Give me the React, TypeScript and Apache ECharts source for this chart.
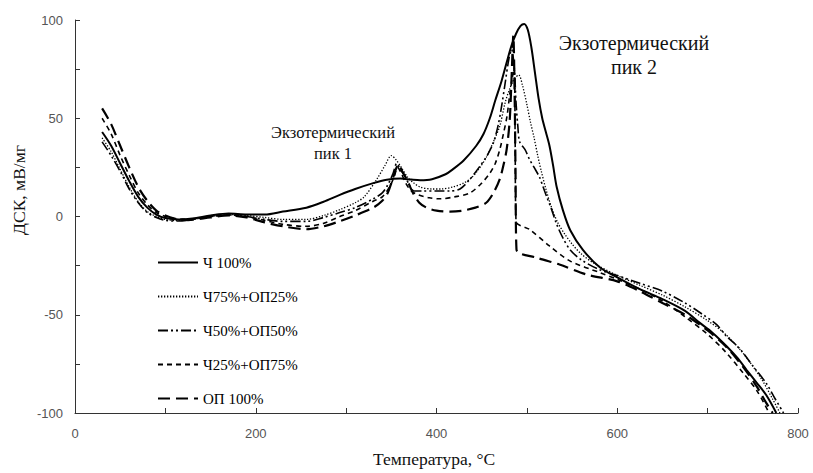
import React, { useEffect, useRef } from 'react';
import * as echarts from 'echarts';

const seriesNames = ['Ч 100%', 'Ч75%+ОП25%', 'Ч50%+ОП50%', 'Ч25%+ОП75%', 'ОП 100%'];

const xTicks = [0, 200, 400, 600, 800];
const yTicks = [-100, -50, 0, 50, 100];

// [temperature °C, DSC mV/mg]
const ch100: number[][] = [
  [30, 43], [40, 36], [50, 27], [60, 18], [70, 10], [80, 4.5], [90, 1], [100, -0.8], [115, -1.5], [130, -1],
  [150, 0.5], [170, 1.5], [190, 1], [210, 1], [230, 2.5], [256, 4.5], [275, 7.5], [293, 11], [310, 14], [330, 17],
  [345, 18.7], [360, 19.3], [372, 18.8], [382, 18.5], [395, 19], [410, 21.5], [418, 24], [430, 28.5], [444, 36],
  [452, 42], [459, 50], [465, 59], [472, 69], [478, 79], [483, 87], [488, 93], [493, 97], [497, 98], [501, 95],
  [505, 86], [509, 73], [513, 60], [517, 50], [521, 43], [525, 36], [529, 26], [533, 15], [540, 3], [548, -7],
  [562, -17], [581, -26], [600, -31], [625, -37], [650, -42], [675, -48], [691, -54], [705, -59], [721, -66],
  [733, -72], [743, -78], [755, -85], [765, -91], [776, -100],
];

const ch75: number[][] = [
  [30, 40], [40, 33], [50, 24], [60, 15], [70, 7.5], [80, 2.5], [90, 0], [100, -1.5], [115, -2], [130, -1.5],
  [150, 0], [170, 1], [190, 0.5], [210, -0.5], [230, -1.5], [256, -1.5], [275, 0.5], [293, 3.5], [310, 7], [320, 10],
  [334, 19], [343, 26], [350, 31], [355, 29], [361, 25], [368, 20], [375, 17], [382, 15], [395, 14], [405, 14],
  [418, 15], [430, 17], [437, 19], [445, 23], [455, 30], [463, 38], [470, 46], [476, 58], [481, 65], [486, 70],
  [491, 72], [495, 67], [500, 57], [504, 48], [508, 40], [512, 31], [516, 23], [521, 14], [527, 5], [534, -3],
  [542, -9], [550, -14], [560, -19], [575, -24], [600, -30], [625, -35], [650, -40], [675, -46], [700, -53],
  [720, -60], [740, -70], [760, -83], [772, -93], [780, -100],
];

const ch50: number[][] = [
  [30, 38], [40, 31], [50, 23], [60, 14], [70, 7], [80, 2], [90, -0.5], [100, -2], [115, -2.3], [130, -1.5],
  [150, 0], [170, 0.8], [190, 0], [210, -1.5], [230, -2.5], [256, -2.5], [275, -0.5], [293, 2], [310, 4.5], [330, 9],
  [340, 12], [346, 16], [352, 22], [356, 27], [360, 24], [365, 20.5], [370, 16], [375, 13], [385, 13], [400, 13],
  [415, 13], [426, 14], [437, 19], [448, 25.6], [456, 31], [463, 37.6], [468, 46], [472, 56], [476, 68], [480, 80],
  [483, 85], [486, 76], [488, 58], [490, 46], [492, 38], [498, 34], [503, 29], [508, 25], [514, 20], [518, 15],
  [522, 10], [527, 4], [533, -4], [540, -11], [548, -17], [560, -22], [580, -27], [600, -30], [625, -34], [650, -38],
  [675, -44], [695, -50], [710, -55], [721, -61], [735, -67], [750, -76], [765, -85], [775, -93], [784, -100],
];

const ch25: number[][] = [
  [30, 50], [40, 42], [50, 31], [60, 21], [70, 12], [80, 6], [90, 2], [100, 0], [110, -1], [125, -1.5],
  [150, 0], [170, 0.8], [190, 0], [210, -2], [230, -4], [256, -5], [275, -3.5], [293, 0], [310, 3], [330, 7.8],
  [340, 10], [348, 15], [353, 20], [357, 25], [361, 22], [366, 17], [372, 13], [380, 11], [392, 9.5], [404, 9],
  [420, 10], [437, 12], [450, 17], [459, 22], [465, 27], [470, 34], [474, 42], [478, 51], [481, 62], [484, 71],
  [486, 75], [487, 40], [488, -2.5], [503, -6.6], [525, -15], [548, -22.7], [581, -28.6], [600, -32], [625, -37],
  [650, -43], [675, -51], [700, -60], [720, -69], [740, -80], [755, -89], [768, -100],
];

const op100: number[][] = [
  [30, 55], [40, 47], [50, 36], [60, 25], [70, 15], [80, 8], [90, 3], [100, 0.5], [110, -1], [125, -1.8],
  [150, -0.5], [170, 0.5], [190, -0.5], [210, -3], [230, -5], [256, -6.5], [275, -5], [293, -2.4], [310, 0.5],
  [330, 4.5], [340, 8], [346, 12], [350, 17], [355, 24], [358, 26.5], [362, 23], [367, 19], [374, 12], [381, 7],
  [389, 4.5], [400, 3], [415, 2.5], [429, 3], [443, 4.5], [455, 7], [463, 12], [470, 19], [474, 26], [477.6, 34],
  [481, 49], [483, 70], [485, 92], [486.5, 60], [487.5, 20], [488.5, -16.8], [511, -21], [536, -24.4], [566, -29.5],
  [600, -33], [625, -38], [650, -44], [675, -50], [700, -58], [720, -66], [740, -77], [755, -87], [765, -95],
  [772, -100],
];

const seriesData = [ch100, ch75, ch50, ch25, op100];
const lineStyles = [
  { width: 2, type: 'solid' as any },
  { width: 1.3, type: [1.3, 1.7] as any },
  { width: 1.6, type: [10, 3, 2, 3, 2, 3] as any },
  { width: 1.6, type: [5, 4] as any },
  { width: 2.2, type: [12, 6] as any },
];

const serif = 'Liberation Serif, Times New Roman, serif';
const sans = 'Liberation Sans, Arial, sans-serif';

export default function App() {
  const ref = useRef<HTMLDivElement>(null);
  useEffect(() => {
    if (!ref.current) return;
    const chart = echarts.init(ref.current, undefined, { renderer: 'svg' });
    const txt = (text: string, x: number, y: number, size: number, rotation = 0) => ({
      type: 'text',
      x,
      y,
      rotation,
      style: { text, font: `${size}px ${serif}`, fill: '#111', align: 'center', verticalAlign: 'middle' },
    });
    chart.setOption({
      animation: false,
      backgroundColor: '#fff',
      grid: { left: 75, right: 15, top: 20, bottom: 60 },
      xAxis: {
        type: 'value',
        min: 0,
        max: 800,
        interval: 100,
        axisLine: { show: true, onZero: false, lineStyle: { color: '#333', width: 1 } },
        axisTick: { show: true, inside: true, length: 5, lineStyle: { color: '#333' } },
        splitLine: { show: false },
        axisLabel: {
          margin: 14,
          color: '#555',
          fontSize: 13,
          fontFamily: sans,
          formatter: (v: number) => (xTicks.includes(v) ? String(v) : ''),
        },
      },
      yAxis: {
        type: 'value',
        min: -100,
        max: 100,
        interval: 25,
        axisLine: { show: true, onZero: false, lineStyle: { color: '#333', width: 1 } },
        axisTick: { show: true, inside: true, length: 5, lineStyle: { color: '#333' } },
        splitLine: { show: false },
        axisLabel: {
          margin: 12,
          color: '#555',
          fontSize: 13,
          fontFamily: sans,
          formatter: (v: number) => (yTicks.includes(v) ? String(v) : ''),
        },
      },
      legend: {
        orient: 'vertical',
        left: 152,
        top: 250,
        itemWidth: 40,
        itemHeight: 14,
        itemGap: 19,
        data: seriesNames,
        itemStyle: { opacity: 0 },
        textStyle: { fontFamily: serif, fontSize: 15, color: '#000' },
      },
      graphic: [
        txt('Экзотермический', 333, 132, 16.5),
        txt('пик 1', 333, 153, 16.5),
        txt('Экзотермический', 634, 43, 20),
        txt('пик 2', 634, 67, 20),
        txt('Температура, °С', 434, 459, 17.5),
        txt('ДСК, мВ/мг', 19, 190, 17.5, Math.PI / 2),
      ],
      series: seriesNames.map((name, i) => ({
        name,
        type: 'line',
        data: seriesData[i],
        showSymbol: false,
        symbol: 'none',
        smooth: 0.3,
        z: 10 - i,
        lineStyle: { color: '#000', ...lineStyles[i] },
        itemStyle: { color: '#000' },
      })),
    });
    return () => chart.dispose();
  }, []);
  return <div ref={ref} style={{ position: 'fixed', left: 0, top: 0, width: 813, height: 473 }} />;
}
